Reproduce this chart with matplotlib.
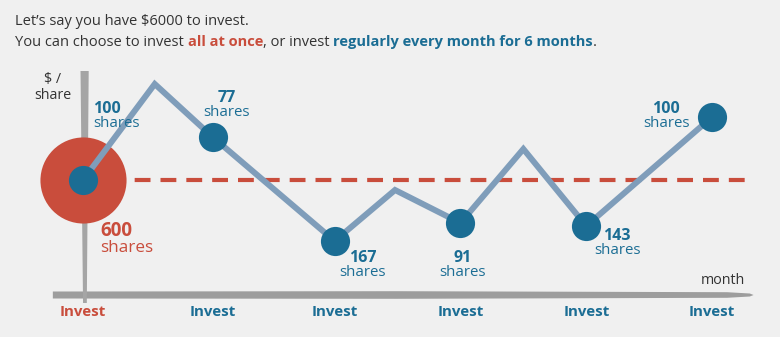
import matplotlib.pyplot as plt
from matplotlib.transforms import IdentityTransform
from matplotlib.font_manager import FontProperties

plt.rcParams['font.family'] = ['Open Sans', 'DejaVu Sans']

# data: price path over six months (arbitrary $/share units)
months = [0, 1, 2, 3, 4, 5]
invest_labels = ["Invest", "Invest", "Invest", "Invest", "Invest", "Invest"]
path_x = [0, 0.57, 1.03, 2, 2.48, 3, 3.5, 4, 5]
path_price = [11.5, 21.1, 15.8, 5.4, 10.5, 7.2, 14.6, 6.9, 17.8]
buy_x = [0, 1.03, 2, 3, 4, 5]
buy_price = [11.5, 15.8, 5.4, 7.2, 6.9, 17.8]
shares_monthly = [100, 77, 167, 91, 143, 100]
shares_lump = 600

BG = "#f0f0f0"
RED = "#c94d3c"
BLUE = "#1b6d94"
LINE = "#7f9dba"
GRAY = "#9d9d9d"
DARK = "#333333"

fig = plt.figure(figsize=(7.8, 3.37), dpi=100, facecolor=BG)
ax = fig.add_axes([0, 0, 1, 1])
ax.set_facecolor(BG)
ax.set_xlim(-0.66, 5.54)
ax.set_ylim(-4.2, 29.5)
ax.axis("off")

# hand-drawn looking axes
ax.fill([-0.24, 2.5, 5.12, 5.3, 5.33, 5.3, 5.12, 2.5, -0.24],
        [-0.35, -0.38, -0.28, -0.15, 0.0, 0.15, 0.28, 0.38, 0.35],
        color=GRAY, lw=0, zorder=1)
ax.fill([-0.02, 0.0, 0.03, 0.045],
        [22.4, -0.8, -0.8, 22.4], color="#a5a5a5", lw=0, zorder=1)

# lump sum: one big buy and the flat average line
ax.plot([0, 5.3], [buy_price[0], buy_price[0]], color=RED, lw=3,
        dashes=(3.8, 2.4), zorder=2)
ax.plot(buy_x[0], buy_price[0], "o", ms=62, color=RED, mec="none", zorder=3)

# price path and monthly buys
ax.plot(path_x, path_price, color=LINE, lw=4.3, solid_joinstyle="miter", zorder=4)
ax.plot(buy_x, buy_price, "o", ms=21, color=BLUE, mec="none", zorder=5)

# share labels (offsets in pixels from each dot)
offsets = [(10, 67, "left"), (14, 35, "center"), (28, -21, "center"),
           (2, -39, "center"), (31, -14, "center"), (-46, 4, "center")]
for m, p, n, (dx, dy, ha) in zip(buy_x, buy_price, shares_monthly, offsets):
    ax.annotate(str(n), (m, p), xytext=(dx, dy), textcoords="offset pixels",
                ha=ha, va="baseline", color=BLUE, fontsize=11.5,
                fontweight="bold", zorder=6)
    ax.annotate("shares", (m, p), xytext=(dx, dy - 14), textcoords="offset pixels",
                ha=ha, va="baseline", color=BLUE, fontsize=10.8, zorder=6)

ax.annotate(str(shares_lump), (buy_x[0], buy_price[0]), xytext=(17, -56),
            textcoords="offset pixels", ha="left", va="baseline",
            color=RED, fontsize=13.5, fontweight="bold", zorder=6)
ax.annotate("shares", (buy_x[0], buy_price[0]), xytext=(17, -72),
            textcoords="offset pixels", ha="left", va="baseline",
            color=RED, fontsize=12.3, zorder=6)

# x labels
for i, (m, lab) in enumerate(zip(buy_x, invest_labels)):
    ax.text(m, -2.1, lab, ha="center", va="baseline", fontsize=10.8,
            fontweight="bold", color=RED if i == 0 else BLUE)

ax.text(5.26, 1.1, "month", ha="right", va="baseline", fontsize=10.3, color=DARK)
ax.text(-0.24, 19.6, "$ /\nshare", ha="center", va="baseline", fontsize=10.3,
        color=DARK, linespacing=1.1)

# heading, with coloured phrases
fig.text(15, 337 - 25, "Let\u2019s say you have $6000 to invest.",
         transform=IdentityTransform(), fontsize=10.5, color=DARK, va="baseline")
parts = [("You can choose to invest ", DARK, "normal"),
         ("all at once", RED, "bold"),
         (", or invest ", DARK, "normal"),
         ("regularly every month for 6 months", BLUE, "bold"),
         (".", DARK, "normal")]
fig.canvas.draw()
r = fig.canvas.get_renderer()
x = 15
for s, c, w in parts:
    fig.text(x, 337 - 46, s, transform=IdentityTransform(), fontsize=10.5,
             color=c, fontweight=w, va="baseline")
    prop = FontProperties(family=['Open Sans', 'DejaVu Sans'], size=10.5, weight=w)
    x += r.get_text_width_height_descent(s, prop, ismath=False)[0]

fig.savefig("out.png", dpi=100, facecolor=BG)
